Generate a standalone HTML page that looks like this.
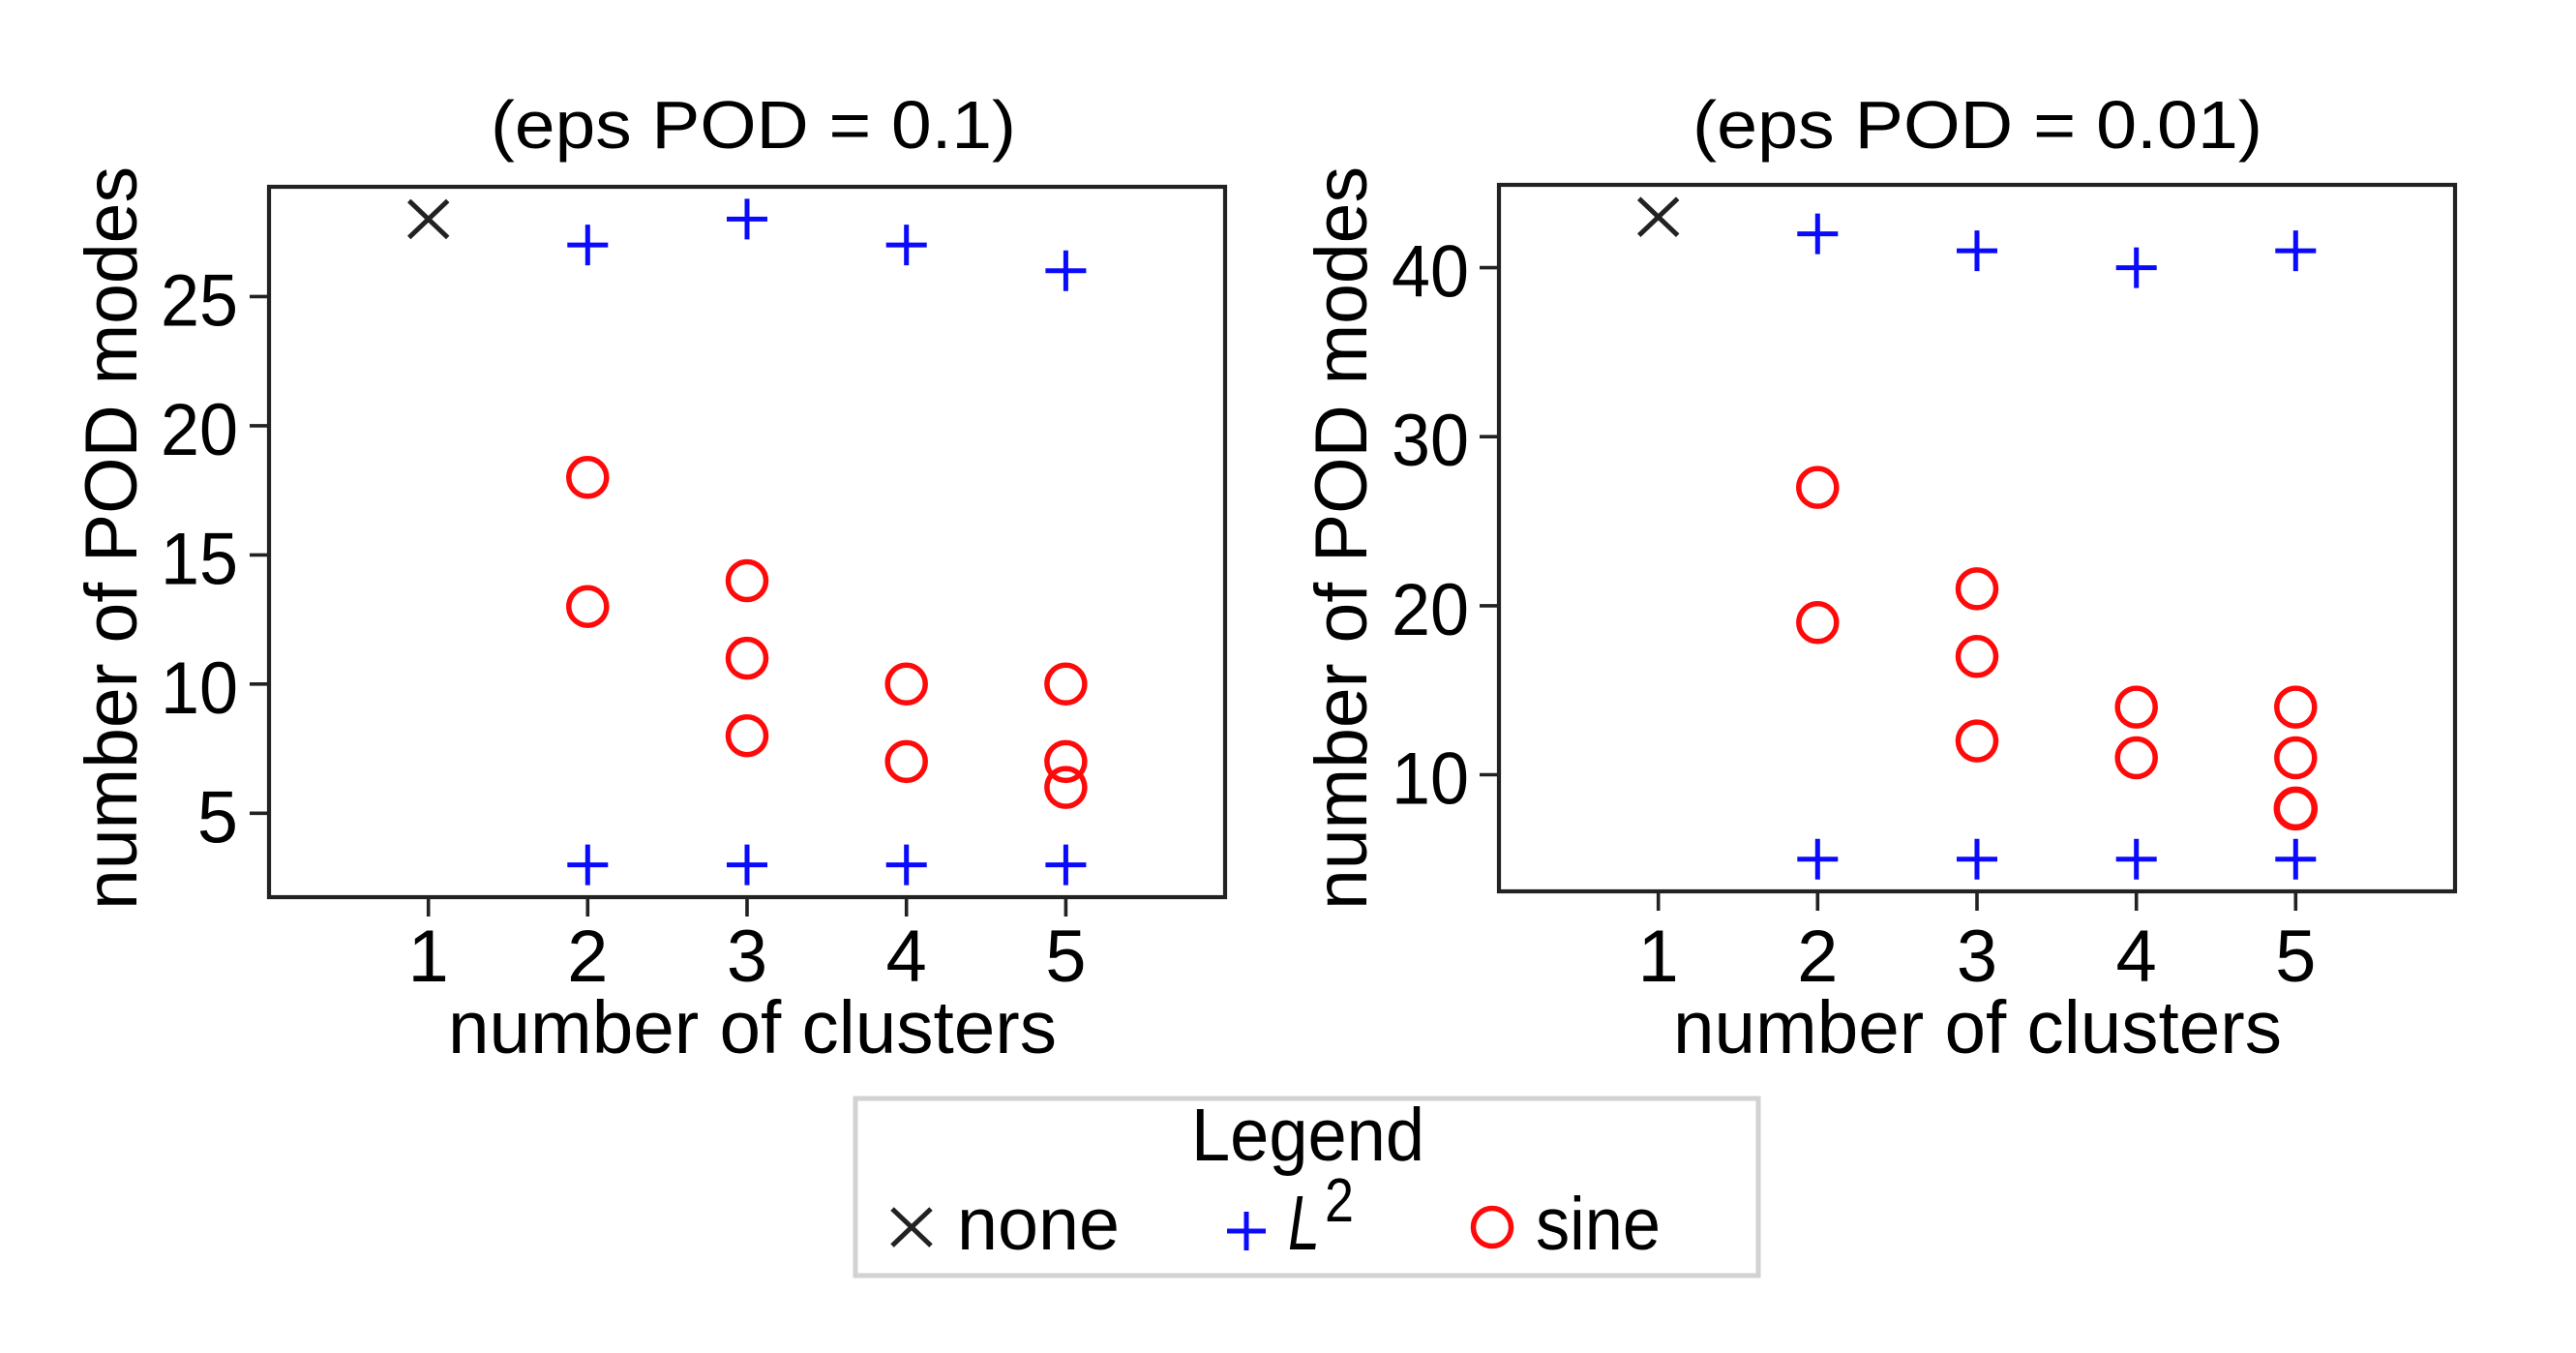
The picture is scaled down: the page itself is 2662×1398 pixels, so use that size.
<!DOCTYPE html>
<html>
<head>
<meta charset="utf-8">
<style>
html,body{margin:0;padding:0;background:#fff;}
svg{display:block;}
text{font-family:"Liberation Sans","DejaVu Sans",sans-serif;fill:#000;}
</style>
</head>
<body>
<svg width="2662" height="1398" viewBox="0 0 2662 1398" xmlns="http://www.w3.org/2000/svg">
<rect x="0" y="0" width="2662" height="1398" fill="#fff"/>

<!-- ================= LEFT PLOT ================= -->
<text x="778.5" y="153" font-size="70" text-anchor="middle" textLength="543" lengthAdjust="spacingAndGlyphs">(eps POD = 0.1)</text>
<rect x="278" y="193" width="988" height="734" fill="none" stroke="#222" stroke-width="4.2"/>
<g stroke="#222" stroke-width="3.6">
<path d="M258 840.3H278M258 706.8H278M258 573.4H278M258 439.9H278M258 306.4H278"/>
<path d="M442.7 927V947M607.3 927V947M772 927V947M936.7 927V947M1101.4 927V947"/>
</g>
<g font-size="76" text-anchor="end">
<text x="246" y="870.3">5</text>
<text x="246" y="736.8" textLength="80" lengthAdjust="spacingAndGlyphs">10</text>
<text x="246" y="603.4" textLength="80" lengthAdjust="spacingAndGlyphs">15</text>
<text x="246" y="469.9" textLength="80" lengthAdjust="spacingAndGlyphs">20</text>
<text x="246" y="336.4" textLength="80" lengthAdjust="spacingAndGlyphs">25</text>
</g>
<g font-size="76" text-anchor="middle">
<text x="442.7" y="1014">1</text>
<text x="607.3" y="1014">2</text>
<text x="772" y="1014">3</text>
<text x="936.7" y="1014">4</text>
<text x="1101.4" y="1014">5</text>
</g>
<text x="777.5" y="1088" font-size="77" text-anchor="middle" textLength="629" lengthAdjust="spacingAndGlyphs">number of clusters</text>
<text transform="translate(141,556) rotate(-90)" font-size="76" text-anchor="middle" textLength="768" lengthAdjust="spacingAndGlyphs">number of POD modes</text>

<path d="M422.7 207.4L462.7 245.4M462.7 207.4L422.7 245.4" stroke="#222" stroke-width="5" fill="none"/>
<g stroke="#0a0aff" stroke-width="5" fill="none">
<path d="M586.3 253.1H628.3M607.3 232.1V274.1"/>
<path d="M751 226.4H793M772 205.4V247.4"/>
<path d="M915.7 253.1H957.7M936.7 232.1V274.1"/>
<path d="M1080.4 279.8H1122.4M1101.4 258.8V300.8"/>
<path d="M586.3 893.6H628.3M607.3 872.6V914.6"/>
<path d="M751 893.6H793M772 872.6V914.6"/>
<path d="M915.7 893.6H957.7M936.7 872.6V914.6"/>
<path d="M1080.4 893.6H1122.4M1101.4 872.6V914.6"/>
</g>
<g stroke="#ff0a0a" stroke-width="5.5" fill="none">
<circle cx="607.3" cy="493.3" r="19.5"/>
<circle cx="607.3" cy="626.7" r="19.5"/>
<circle cx="772" cy="600" r="19.5"/>
<circle cx="772" cy="680.1" r="19.5"/>
<circle cx="772" cy="760.2" r="19.5"/>
<circle cx="936.7" cy="706.8" r="19.5"/>
<circle cx="936.7" cy="786.9" r="19.5"/>
<circle cx="1101.4" cy="706.8" r="19.5"/>
<circle cx="1101.4" cy="786.9" r="19.5"/>
<circle cx="1101.4" cy="813.6" r="19.5"/>
</g>

<!-- ================= RIGHT PLOT ================= -->
<text x="2043.5" y="153" font-size="70" text-anchor="middle" textLength="589" lengthAdjust="spacingAndGlyphs">(eps POD = 0.01)</text>
<rect x="1549" y="191" width="988" height="730" fill="none" stroke="#222" stroke-width="4.2"/>
<g stroke="#222" stroke-width="3.6">
<path d="M1529 800.5H1549M1529 625.9H1549M1529 451.2H1549M1529 276.6H1549"/>
<path d="M1713.7 921V941M1878.3 921V941M2043 921V941M2207.7 921V941M2372.3 921V941"/>
</g>
<g font-size="76" text-anchor="end">
<text x="1518" y="830.5" textLength="80" lengthAdjust="spacingAndGlyphs">10</text>
<text x="1518" y="655.9" textLength="80" lengthAdjust="spacingAndGlyphs">20</text>
<text x="1518" y="481.2" textLength="80" lengthAdjust="spacingAndGlyphs">30</text>
<text x="1518" y="306.6" textLength="80" lengthAdjust="spacingAndGlyphs">40</text>
</g>
<g font-size="76" text-anchor="middle">
<text x="1713.7" y="1014">1</text>
<text x="1878.3" y="1014">2</text>
<text x="2043" y="1014">3</text>
<text x="2207.7" y="1014">4</text>
<text x="2372.3" y="1014">5</text>
</g>
<text x="2043.5" y="1088" font-size="77" text-anchor="middle" textLength="629" lengthAdjust="spacingAndGlyphs">number of clusters</text>
<text transform="translate(1412,556) rotate(-90)" font-size="76" text-anchor="middle" textLength="768" lengthAdjust="spacingAndGlyphs">number of POD modes</text>

<path d="M1693.7 205.2L1733.7 243.2M1733.7 205.2L1693.7 243.2" stroke="#222" stroke-width="5" fill="none"/>
<g stroke="#0a0aff" stroke-width="5" fill="none">
<path d="M1857.3 241.6H1899.3M1878.3 220.6V262.6"/>
<path d="M2022 259.1H2064M2043 238.1V280.1"/>
<path d="M2186.7 276.6H2228.7M2207.7 255.6V297.6"/>
<path d="M2351.3 259.1H2393.3M2372.3 238.1V280.1"/>
<path d="M1857.3 887.8H1899.3M1878.3 866.8V908.8"/>
<path d="M2022 887.8H2064M2043 866.8V908.8"/>
<path d="M2186.7 887.8H2228.7M2207.7 866.8V908.8"/>
<path d="M2351.3 887.8H2393.3M2372.3 866.8V908.8"/>
</g>
<g stroke="#ff0a0a" stroke-width="5.5" fill="none">
<circle cx="1878.3" cy="503.6" r="19.5"/>
<circle cx="1878.3" cy="643.3" r="19.5"/>
<circle cx="2043" cy="608.4" r="19.5"/>
<circle cx="2043" cy="678.3" r="19.5"/>
<circle cx="2043" cy="765.6" r="19.5"/>
<circle cx="2207.7" cy="730.6" r="19.5"/>
<circle cx="2207.7" cy="783" r="19.5"/>
<circle cx="2372.3" cy="730.6" r="19.5"/>
<circle cx="2372.3" cy="783" r="19.5"/>
<circle cx="2372.3" cy="835.4" r="19.5" stroke-width="6.5"/>
</g>

<!-- ================= LEGEND ================= -->
<rect x="884" y="1135" width="933" height="183" fill="#fff" stroke="#d2d2d2" stroke-width="5"/>
<text x="1351.5" y="1199" font-size="77" text-anchor="middle" textLength="241" lengthAdjust="spacingAndGlyphs">Legend</text>
<path d="M922 1249L962 1287M962 1249L922 1287" stroke="#222" stroke-width="5" fill="none"/>
<text x="989" y="1291" font-size="77" textLength="168" lengthAdjust="spacingAndGlyphs">none</text>
<path d="M1268 1272H1308M1288 1252V1292" stroke="#0a0aff" stroke-width="5" fill="none"/>
<text x="1331" y="1291" font-size="80" font-style="italic" textLength="33" lengthAdjust="spacingAndGlyphs">L</text>
<text x="1369" y="1262" font-size="64" textLength="30" lengthAdjust="spacingAndGlyphs">2</text>
<circle cx="1542" cy="1268" r="19.5" stroke="#ff0a0a" stroke-width="5.5" fill="none"/>
<text x="1587" y="1291" font-size="77" textLength="129" lengthAdjust="spacingAndGlyphs">sine</text>
</svg>
</body>
</html>
